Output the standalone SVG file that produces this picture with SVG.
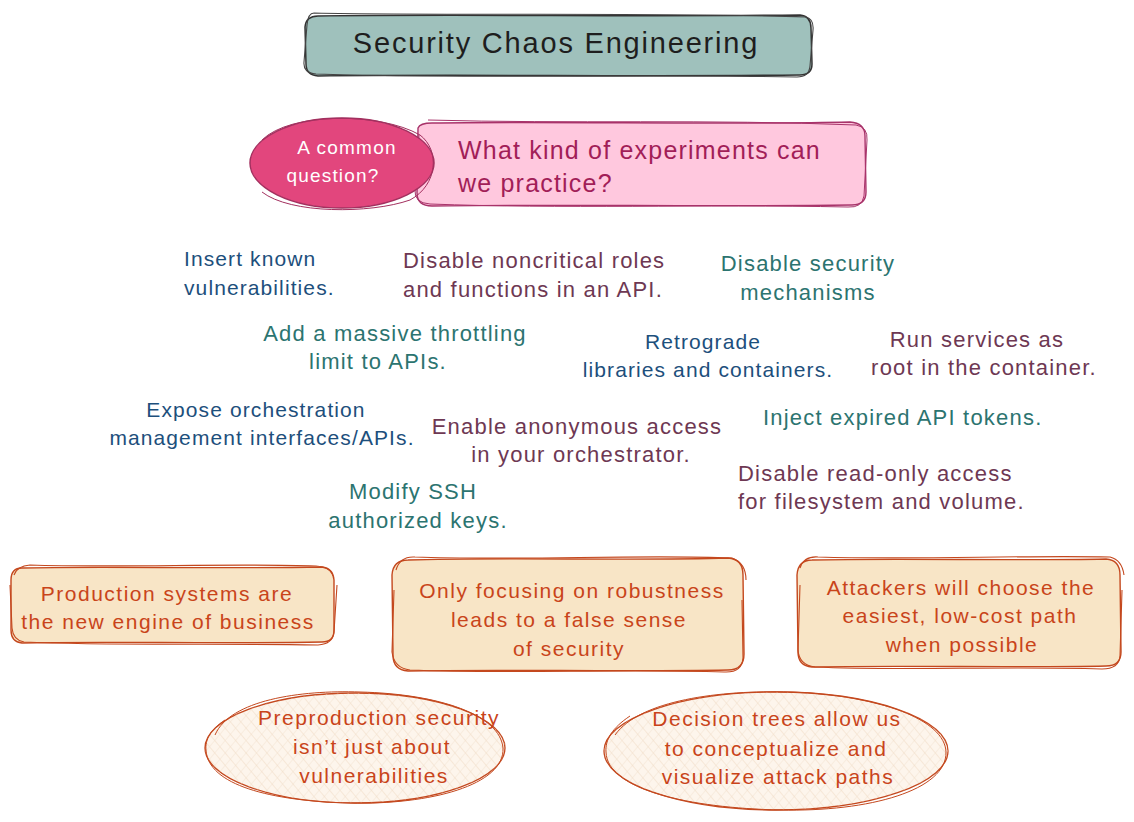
<svg xmlns="http://www.w3.org/2000/svg" width="1134" height="822" viewBox="0 0 1134 822">
<defs>
<pattern id="hatch" width="8" height="8" patternUnits="userSpaceOnUse" patternTransform="rotate(-40)">
<rect width="8" height="8" fill="#fdf5ec"/>
<line x1="0" y1="0" x2="0" y2="8" stroke="#efd9c2" stroke-width="1"/>
</pattern>
<pattern id="hatch2" width="8" height="8" patternUnits="userSpaceOnUse" patternTransform="rotate(40)">
<line x1="0" y1="0" x2="0" y2="8" stroke="#f1dfcc" stroke-width="0.8"/>
</pattern>
<style>
text{font-family:"Liberation Sans","Noto Sans",sans-serif;}
.blue{fill:#1d4f7c;font-size:21px;letter-spacing:1.1px;}
.plum{fill:#6e3853;font-size:22px;letter-spacing:1.2px;}
.teal{fill:#2c7470;font-size:22px;letter-spacing:1.2px;}
.org{fill:#c9441a;font-size:21px;letter-spacing:1.5px;text-anchor:middle;}
.c{text-anchor:middle;}
.bx{fill:#f8e5c6;stroke:#c4481e;stroke-width:1.4;}
.bx2{fill:none;stroke:#c4481e;stroke-width:1.1;}
.el{fill:url(#hatch);stroke:#c4481e;stroke-width:1.3;}
.el2{fill:none;stroke:#c4481e;stroke-width:1;}
</style>
</defs>
<rect width="1134" height="822" fill="#ffffff"/>

<g id="title">
<path d="M318,16 C450,14 650,17 800,15 Q811,16 811,28 L812,64 Q812,75 800,75 C650,77 450,74 318,76 Q306,75 306,64 L305,27 Q306,16 318,16 Z" fill="#9fc1bc" stroke="#333" stroke-width="1.5"/>
<path d="M314,13 C460,16 660,12 806,17 Q814,19 813,30 L810,66 Q809,77 797,77 C640,74 460,79 316,74 Q303,73 304,62 L307,25 Q308,13 314,13" fill="none" stroke="#444" stroke-width="1.1"/>
<text x="556" y="53" class="c" style="font-size:29px;fill:#1e1e1e;letter-spacing:1.8px">Security Chaos Engineering</text>
</g>

<g id="question">
<path d="M418,128 Q420,123 432,123 C560,121 720,125 850,122 Q865,123 865,136 L866,192 Q866,205 852,205 C700,207 560,204 432,206 Q417,206 417,193 Z" fill="#ffc8de" stroke="#a8336a" stroke-width="1.4"/>
<path d="M428,120 C570,124 710,119 856,125 Q868,127 867,140 L864,196 Q862,208 848,207 C700,204 560,209 430,204 Q414,203 415,190 L419,135" fill="none" stroke="#a8336a" stroke-width="1"/>
<text x="458" y="159" style="font-size:25px;fill:#a21e58;letter-spacing:1.2px">What kind of experiments can</text>
<text x="458" y="192" style="font-size:25px;fill:#a21e58;letter-spacing:1.2px">we practice?</text>
</g>

<g id="common">
<ellipse cx="342" cy="163" rx="92" ry="45" fill="#e2467d" stroke="#a3305f" stroke-width="1.5"/>
<path d="M262,140 C290,112 380,112 420,135 C440,150 438,185 410,200 C370,214 290,214 262,192" fill="none" stroke="#a3305f" stroke-width="1"/>
<text x="347" y="154" class="c" style="font-size:19px;fill:#ffffff;letter-spacing:1.2px">A common</text>
<text x="333" y="182" class="c" style="font-size:19px;fill:#ffffff;letter-spacing:1.2px">question?</text>
</g>

<g id="t1"><text x="184" y="266" class="blue">Insert known</text><text x="184" y="295" class="blue">vulnerabilities.</text></g>
<g id="t2"><text x="403" y="268" class="plum">Disable noncritical roles</text><text x="403" y="297" class="plum">and functions in an API.</text></g>
<g id="t3"><text x="808" y="271" class="teal c">Disable security</text><text x="808" y="300" class="teal c">mechanisms</text></g>
<g id="t4"><text x="395" y="341" class="teal c">Add a massive throttling</text><text x="378" y="369" class="teal c">limit to APIs.</text></g>
<g id="t5"><text x="703" y="349" class="blue c">Retrograde</text><text x="708" y="377" class="blue c">libraries and containers.</text></g>
<g id="t6"><text x="977" y="347" class="plum c">Run services as</text><text x="984" y="375" class="plum c">root in the container.</text></g>
<g id="t7"><text x="256" y="417" class="blue c">Expose orchestration</text><text x="262" y="445" class="blue c">management interfaces/APIs.</text></g>
<g id="t8"><text x="577" y="434" class="plum c">Enable anonymous access</text><text x="581" y="462" class="plum c">in your orchestrator.</text></g>
<g id="t9"><text x="763" y="425" class="teal">Inject expired API tokens.</text></g>
<g id="t10"><text x="738" y="481" class="plum">Disable read-only access</text><text x="738" y="509" class="plum">for filesystem and volume.</text></g>
<g id="t11"><text x="413" y="499" class="teal c">Modify SSH</text><text x="418" y="528" class="teal c">authorized keys.</text></g>

<g id="b1">
<path class="bx" d="M22,568 C100,566 220,569 322,567 Q333,568 334,580 L334,630 Q334,642 322,642 C220,644 100,641 22,643 Q11,642 11,630 L11,580 Q11,568 22,568 Z"/>
<path class="bx2" d="M14,575 Q17,566 30,565 C120,568 230,563 316,566 Q331,567 333,576 M337,585 L334,632 Q333,644 318,645 C210,643 110,646 24,642 Q13,640 12,628 L10,585"/>
<text x="167" y="601" class="org">Production systems are</text>
<text x="168" y="629" class="org">the new engine of business</text>
</g>

<g id="b2">
<path class="bx" d="M408,560 C500,557 640,561 728,558 Q743,559 743,575 L744,654 Q744,670 728,670 C620,672 500,669 408,671 Q393,670 393,655 L392,575 Q393,560 408,560 Z"/>
<path class="bx2" d="M396,570 Q400,556 415,557 C520,561 640,554 732,558 Q746,563 746,580 M742,600 L743,658 Q742,673 724,672 C620,669 500,674 410,670 Q394,668 392,652 L394,590"/>
<text x="572" y="598" class="org">Only focusing on robustness</text>
<text x="569" y="627" class="org">leads to a false sense</text>
<text x="569" y="656" class="org">of security</text>
</g>

<g id="b3">
<path class="bx" d="M812,560 C900,558 1020,561 1106,559 Q1120,560 1120,575 L1121,652 Q1121,666 1106,666 C1020,668 900,665 812,667 Q798,666 798,652 L797,575 Q798,560 812,560 Z"/>
<path class="bx2" d="M800,568 Q804,556 818,557 C920,560 1020,555 1110,557 Q1122,560 1124,575 M1122,590 L1120,656 Q1119,669 1102,669 C1000,666 900,671 815,667 Q799,665 798,650 L800,585"/>
<text x="961" y="595" class="org">Attackers will choose the</text>
<text x="960" y="623" class="org">easiest, low-cost path</text>
<text x="962" y="652" class="org">when possible</text>
</g>

<g id="e1">
<ellipse class="el" cx="355" cy="748" rx="150" ry="55"/>
<ellipse cx="355" cy="748" rx="150" ry="55" fill="url(#hatch2)"/>
<path class="el2" d="M215,735 C230,700 300,690 360,692 C440,694 500,715 503,748 C505,785 430,805 350,803 C270,801 208,785 206,750 C205,740 210,730 225,720"/>
<text x="379" y="725" class="org">Preproduction security</text>
<text x="372" y="754" class="org">isn’t just about</text>
<text x="374" y="783" class="org">vulnerabilities</text>
</g>

<g id="e2">
<ellipse class="el" cx="776" cy="751" rx="172" ry="59"/>
<ellipse cx="776" cy="751" rx="172" ry="59" fill="url(#hatch2)"/>
<path class="el2" d="M615,735 C640,700 720,690 790,692 C880,695 945,720 946,752 C947,790 870,812 780,810 C690,808 607,790 606,752 C605,740 612,728 630,716"/>
<text x="777" y="726" class="org">Decision trees allow us</text>
<text x="776" y="756" class="org">to conceptualize and</text>
<text x="778" y="784" class="org">visualize attack paths</text>
</g>
</svg>
